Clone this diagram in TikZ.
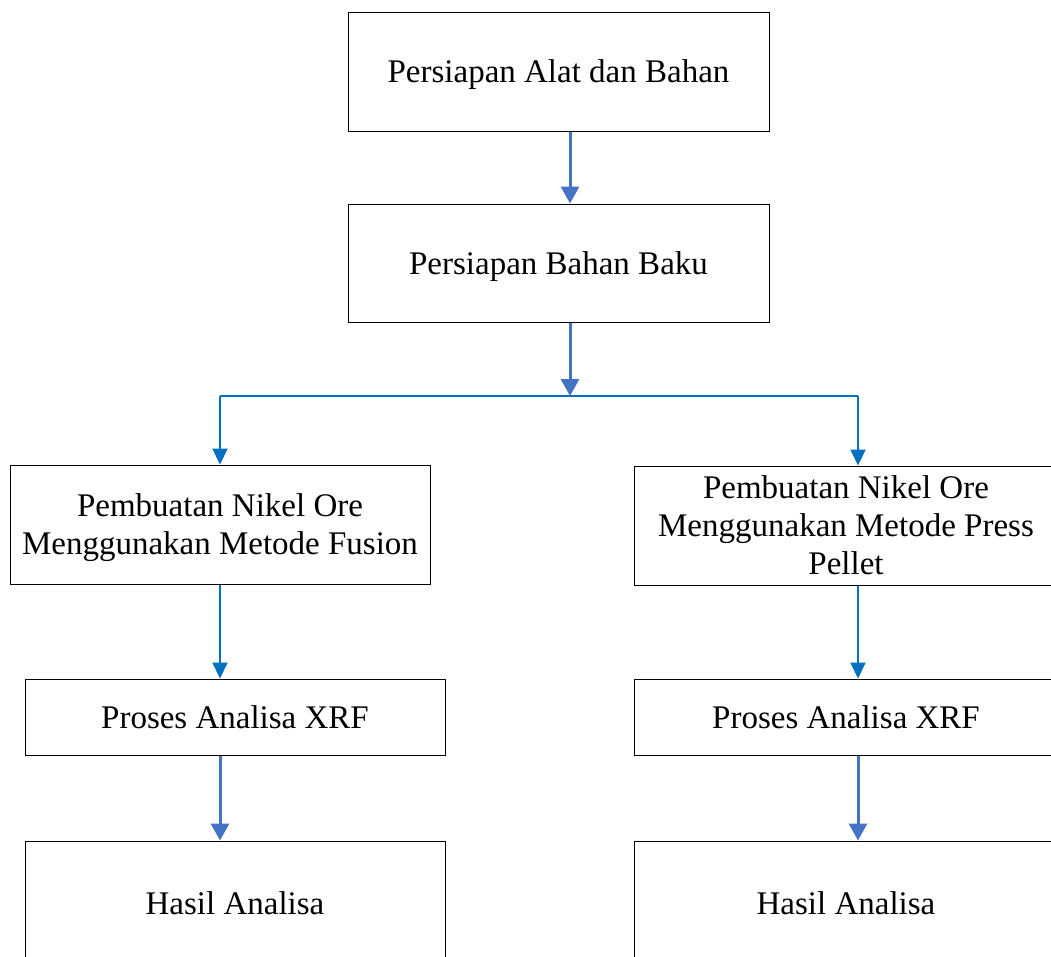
\documentclass[tikz,border=0pt]{standalone}
\usepackage{fontspec}
\setmainfont{Liberation Serif}
\usetikzlibrary{arrows.meta,calc}
\definecolor{arrA}{HTML}{4472C4}
\definecolor{arrB}{HTML}{0070C0}
\begin{document}
\begin{tikzpicture}[x=1pt,y=-1pt,
  boxstyle/.style={draw=black,line width=1pt,fill=white,rectangle,align=center,
    inner sep=0pt,text depth=0pt,font=\fontsize{33}{38}\selectfont},
  arrowA/.style={draw=arrA,line width=3pt,-{Triangle[width=18pt,length=17pt]}},
  arrowB/.style={draw=arrB,line width=2pt},
  arrowBt/.style={draw=arrB,line width=2pt,-{Triangle[width=15pt,length=16pt]}}]
\useasboundingbox (0,0) rectangle (1051,956);
\clip (0,0) rectangle (1051,956);
\fill[white] (0,0) rectangle (1051,956);
% nodes
\node[boxstyle,minimum width=421pt,minimum height=119pt] (b1) at (558.5,71.5) {Persiapan Alat dan Bahan};
\node[boxstyle,minimum width=421pt,minimum height=118pt] (b2) at (558.5,263) {Persiapan Bahan Baku};
\node[boxstyle,minimum width=420pt,minimum height=119pt] (b3) at (220,524.5) {Pembuatan Nikel Ore\\Menggunakan Metode Fusion};
\node[boxstyle,minimum width=424pt,minimum height=119pt] (b4) at (846,525.5) {Pembuatan Nikel Ore\\Menggunakan Metode Press\\Pellet};
\node[boxstyle,minimum width=420pt,minimum height=76pt] (b5) at (235,717) {Proses Analisa XRF};
\node[boxstyle,minimum width=424pt,minimum height=76pt] (b6) at (846,717) {Proses Analisa XRF};
\node[boxstyle,minimum width=420pt,minimum height=124pt] (b7) at (235,903) {Hasil Analisa};
\node[boxstyle,minimum width=424pt,minimum height=124pt] (b8) at (846,903) {Hasil Analisa};
% coordinates
\coordinate (xm) at (570,0);
\coordinate (xl) at (220,0);
\coordinate (xr) at (858,0);
\coordinate (split) at (570,396);
% connectors
\draw[arrowA] (b1.south -| xm) -- (b2.north -| xm);
\draw[arrowA] (b2.south -| xm) -- (split);
\draw[arrowB] (split -| xl) -- (split -| xr);
\draw[arrowBt] (split -| xl) -- (b3.north -| xl);
\draw[arrowBt] (split -| xr) -- (b4.north -| xr);
\draw[arrowBt] (b3.south -| xl) -- (b5.north -| xl);
\draw[arrowBt] (b4.south -| xr) -- (b6.north -| xr);
\draw[arrowA] (b5.south -| xl) -- (b7.north -| xl);
\draw[arrowA] (b6.south -| xr) -- (b8.north -| xr);
\end{tikzpicture}
\end{document}
